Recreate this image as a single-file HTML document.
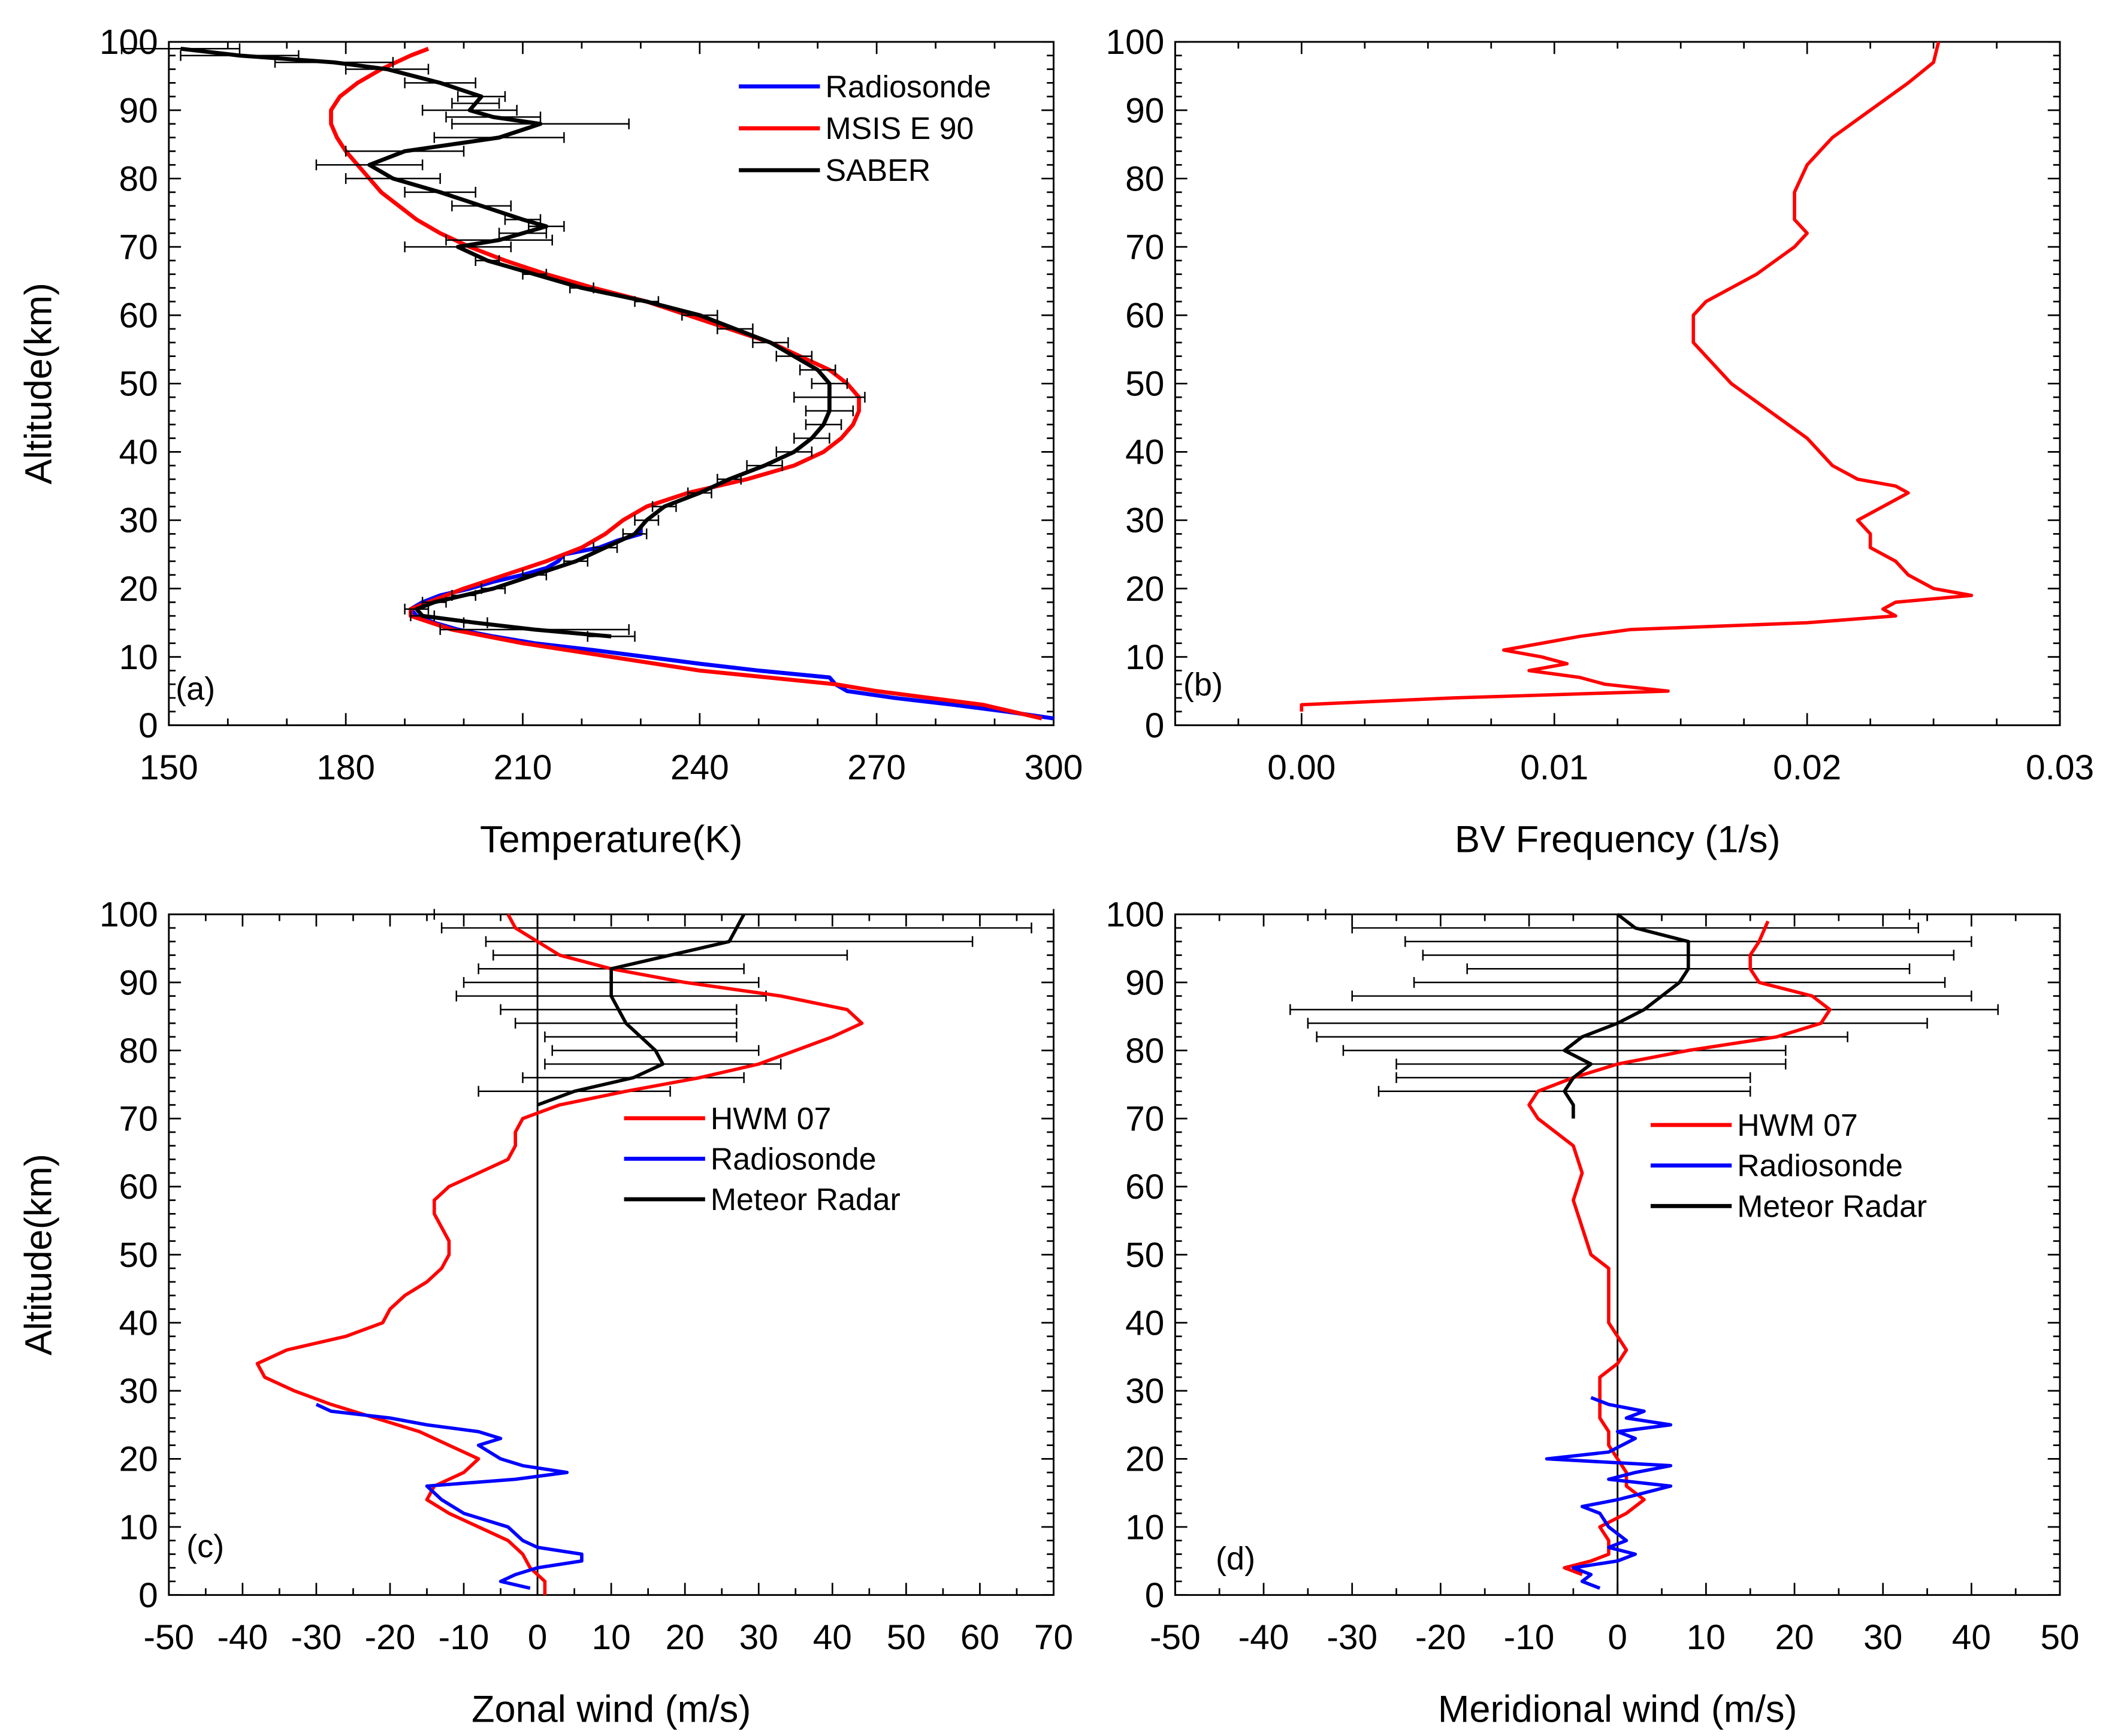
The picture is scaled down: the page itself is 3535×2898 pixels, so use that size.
<!DOCTYPE html>
<html><head><meta charset="utf-8"><style>
html,body{margin:0;padding:0;background:#fff}
svg{display:block}
text{font-family:"Liberation Sans",Arial,sans-serif;fill:#000}
</style></head><body>
<svg id="fig" width="3535" height="2898" viewBox="0 0 1568 1285.4" preserveAspectRatio="none" xmlns="http://www.w3.org/2000/svg"></svg>
<script>
// ---------- data ----------
const msisAlt=[1,3,5,6,8,10,12,14,16,17,18,20,22,24,26,28,30,32,34,36,38,40,42,44,46,48,50,52,54,56,58,60,62,64,66,68,70,72,74,76,78,80,82,84,86,88,90,92,94,96,98,99];
const msisT=[298,288,270,263,240,225,210,198,191,191,194,200,207,214,220,224,227,231,238,248,256,261,264,266,267,267,265,262,257,252,245,238,231,222,214,207,201,196,192,189,186,184,182,180,178.5,177.5,177.5,179,182,186,191,194];
const sondeAltA=[1,2,3,4,5,6,7,8,9,10,11,12,13,14,15,16,17,18,19,20,21,22,23,24,25,26,27,28,29];
const sondeT=[300,292,283,273,265,263,262,250,240,231,222,212,205,199,195,192,191,193,196,201,205,210,214,216,217,223,226,230,230];
const saberAlt=[13,14,15,16,17,18,19,20,22,24,26,28,30,32,34,36,38,40,42,44,46,48,50,52,54,56,58,60,62,64,66,68,70,71,72,73,74,76,78,80,82,84,86,88,89,90,91,92,94,96,97,98,99];
const saberT=[225,212,202,193,192,195,200,205,212,219,224,229,231,234,240,245,251,256,259,261,262,262,262,260,256,252,246,240,231,220,212,204,199,206,210,214,210,203,196,188,184,190,206,213,205,201,202,203,196,187,178,162,152];
const saberErr=[4,16,2,2,2,2,2,2,2,2,2,2,2,2,2,2,3,3,3,3,4,6,3,3,3,3,3,3,2,2,2,2,9,9,4,3,3,5,6,8,9,10,11,15,8,8,4,4,6,7,10,10,10];

const bvAlt=[2,3,4,5,6,7,8,9,10,11,12,13,14,15,16,17,18,19,20,22,24,26,28,30,32,34,35,36,38,42,46,50,54,56,60,62,64,66,70,72,74,78,82,86,90,94,97,100];
const bvN=[0,0,0.006,0.0145,0.012,0.011,0.009,0.0105,0.0095,0.008,0.0095,0.011,0.013,0.02,0.0235,0.023,0.0235,0.0265,0.025,0.024,0.0235,0.0225,0.0225,0.022,0.023,0.024,0.0235,0.022,0.021,0.02,0.0185,0.017,0.016,0.0155,0.0155,0.016,0.017,0.018,0.0195,0.02,0.0195,0.0195,0.02,0.021,0.0225,0.024,0.025,0.0252];

const hwmAltC=[0,2,4,6,8,10,12,14,16,18,20,22,24,26,28,30,32,34,36,38,40,42,44,46,48,50,52,54,56,58,60,62,64,66,68,70,72,74,76,78,80,82,84,86,88,90,92,94,96,98,100];
const hwmU=[1,1,-1,-2,-4,-8,-12,-15,-14,-10,-8,-12,-16,-22,-28,-33,-37,-38,-34,-26,-21,-20,-18,-15,-13,-12,-12,-13,-14,-14,-12,-8,-4,-3,-3,-2,3,12,22,30,35,40,44,42,33,20,10,3,0,-3,-4];
const sondeAltC=[1,2,3,4,5,6,7,8,10,12,14,16,17,18,19,20,22,23,24,25,26,27,28];
const sondeU=[-1,-5,-3,0,6,6,0,-2,-4,-10,-13,-15,-3,4,-2,-5,-8,-5,-8,-15,-20,-28,-30];
const radarAltC=[72,74,76,78,80,82,84,86,88,90,92,94,96,98,100];
const radarU=[0,5,13,17,16,14,12,11,10,10,10,18,26,27,28];
const radarUErr=[0,13,15,16,14,13,15,16,21,20,18,24,33,40,42];

const hwmAltD=[3,4,5,6,8,10,12,14,16,18,20,22,24,26,28,30,32,34,36,38,40,44,48,50,54,58,62,66,70,72,74,76,78,80,82,84,86,88,90,92,94,96,99];
const hwmV=[-4,-6,-3,-1,-1,-2,1,3,1,1,0,-1,-1,-2,-2,-2,-2,0,1,0,-1,-1,-1,-3,-4,-5,-4,-5,-9,-10,-9,-5,0,8,18,23,24,22,16,15,15,16,17];
const sondeAltD=[1,2,3,4,5,6,7,8,10,12,13,14,15,16,17,18,19,20,21,23,24,25,26,27,28,29];
const sondeV=[-2,-4,-3,-5,0,2,-1,1,-1,-2,-4,0,3,6,-1,2,6,-8,-1,2,0,6,1,3,-1,-3];
const radarAltD=[70,72,74,76,78,80,82,84,86,88,90,92,94,96,98,100];
const radarV=[-5,-5,-6,-5,-3,-6,-4,0,3,5,7,8,8,8,2,0];
const radarVErr=[0,0,21,20,22,25,30,35,40,35,30,25,30,32,32,33];

// ---------- helpers ----------
const NS="http://www.w3.org/2000/svg";
const svg=document.getElementById('fig');
function mk(tag,attrs,parent){const e=document.createElementNS(NS,tag);for(const k in attrs)e.setAttribute(k,attrs[k]);(parent||svg).appendChild(e);return e;}

function panel(id,box,xr,yr,xticks,xfmt,xminor,xtitle,ytitle,label,labelPos){
  const g=mk('g',{});
  
  
  const X=v=>box.x0+(v-xr[0])/(xr[1]-xr[0])*(box.x1-box.x0);
  const Y=v=>box.y1-(v-yr[0])/(yr[1]-yr[0])*(box.y1-box.y0);
  const fr=mk('rect',{x:box.x0,y:box.y0,width:box.x1-box.x0,height:box.y1-box.y0,fill:'none',stroke:'#000','stroke-width':1.3},g);
  
  
  // x ticks
  for(let v=xr[0];v<=xr[1]+1e-9;v+=xminor){
    const major=xticks.some(t=>Math.abs(t-v)<1e-9);const L=major?9:5;
    mk('line',{x1:X(v),x2:X(v),y1:box.y1,y2:box.y1-L,stroke:'#000','stroke-width':1.2},g);
    mk('line',{x1:X(v),x2:X(v),y1:box.y0,y2:box.y0+L,stroke:'#000','stroke-width':1.2},g);
  }
  xticks.forEach(t=>{const tx=mk('text',{x:X(t),y:box.y1+40,'font-size':26,'text-anchor':'middle'},g);tx.textContent=xfmt(t);
    
    });
  for(let v=0;v<=100;v+=2){const major=v%10===0;const L=major?9:5;
    mk('line',{x1:box.x0,x2:box.x0+L,y1:Y(v),y2:Y(v),stroke:'#000','stroke-width':1.2},g);
    mk('line',{x1:box.x1,x2:box.x1-L,y1:Y(v),y2:Y(v),stroke:'#000','stroke-width':1.2},g);
    if(major){const ty=mk('text',{x:box.x0-8,y:Y(v)+9,'font-size':26,'text-anchor':'end'},g);ty.textContent=v;
      
      }
  }
  const xt=mk('text',{x:(box.x0+box.x1)/2,y:box.y1+94,'font-size':28,'text-anchor':'middle'},g);xt.textContent=xtitle;
  
  
  if(ytitle){const yt=mk('text',{x:0,y:0,'font-size':28,'text-anchor':'middle',transform:`translate(38,${(box.y0+box.y1)/2}) rotate(-90)`},g);yt.textContent=ytitle;
    
    }
  const lb=mk('text',{x:labelPos[0],y:labelPos[1],'font-size':24},g);lb.textContent=label;
  
  
  return {g,X,Y,box};
}
function line(p,xs,ys,color,w,name){
  const d=xs.map((x,i)=>(i?'L':'M')+p.X(x).toFixed(2)+','+p.Y(ys[i]).toFixed(2)).join('');
  const e=mk('path',{d,fill:'none',stroke:color,'stroke-width':w,'stroke-linejoin':'round'},p.g);
  
  
}
function errbars(p,xs,ys,errs,name){
  xs.forEach((x,i)=>{if(!errs[i])return;const y=p.Y(ys[i]);
    const e=mk('path',{d:`M${p.X(x-errs[i])},${y}L${p.X(x+errs[i])},${y}M${p.X(x-errs[i])},${y-4}v8M${p.X(x+errs[i])},${y-4}v8`,stroke:'#000','stroke-width':1.1,fill:'none'},p.g);
    
    });
}
function legend(p,x,y,items,dy){
  items.forEach((it,i)=>{const yy=y+i*dy;
    mk('line',{x1:x,x2:x+60,y1:yy,y2:yy,stroke:it[1],'stroke-width':3},p.g);
    const t=mk('text',{x:x+64,y:yy+8,'font-size':23},p.g);t.textContent=it[0];
    
    });
}

// panel a
const pa=panel('panel-a-temperature',{x0:125,x1:780,y0:31,y1:537},[150,300],[0,100],[150,180,210,240,270,300],v=>v,10,'Temperature(K)','Altitude(km)','(a)',[130,518]);
line(pa,sondeT,sondeAltA,'#0000ff',3,'radiosonde-temperature-line');
line(pa,msisT,msisAlt,'#ff0000',3,'msis-temperature-line');
errbars(pa,saberT,saberAlt,saberErr,'saber-error-bar');
line(pa,saberT,saberAlt,'#000',3,'saber-temperature-line');
legend(pa,547,64,[['Radiosonde','#0000ff'],['MSIS E 90','#ff0000'],['SABER','#000']],31);

// panel b
const pb=panel('panel-b-bv-frequency',{x0:870,x1:1525,y0:31,y1:537},[-0.005,0.03],[0,100],[0,0.01,0.02,0.03],v=>v.toFixed(2),0.0025,'BV Frequency (1/s)',null,'(b)',[876,515]);
line(pb,bvN,bvAlt,'#ff0000',2.5,'bv-frequency-line');

// panel c
const pc=panel('panel-c-zonal-wind',{x0:125,x1:780,y0:677,y1:1181},[-50,70],[0,100],[-50,-40,-30,-20,-10,0,10,20,30,40,50,60,70],v=>v,5,'Zonal wind (m/s)','Altitude(km)','(c)',[138,1153]);
const zc=mk('line',{x1:pc.X(0),x2:pc.X(0),y1:677,y2:1181,stroke:'#000','stroke-width':1.3},pc.g);


errbars(pc,radarU,radarAltC,radarUErr,'radar-error-bar');
line(pc,hwmU,hwmAltC,'#ff0000',2.5,'hwm-zonal-line');
line(pc,sondeU,sondeAltC,'#0000ff',2.5,'radiosonde-zonal-line');
line(pc,radarU,radarAltC,'#000',2.5,'radar-zonal-line');
legend(pc,462,828,[['HWM 07','#ff0000'],['Radiosonde','#0000ff'],['Meteor Radar','#000']],30);

// panel d
const pd=panel('panel-d-meridional-wind',{x0:870,x1:1525,y0:677,y1:1181},[-50,50],[0,100],[-50,-40,-30,-20,-10,0,10,20,30,40,50],v=>v,5,'Meridional wind (m/s)',null,'(d)',[900,1162]);
const zd=mk('line',{x1:pd.X(0),x2:pd.X(0),y1:677,y2:1181,stroke:'#000','stroke-width':1.3},pd.g);


errbars(pd,radarV,radarAltD,radarVErr,'radar-error-bar');
line(pd,hwmV,hwmAltD,'#ff0000',2.5,'hwm-meridional-line');
line(pd,sondeV,sondeAltD,'#0000ff',2.5,'radiosonde-meridional-line');
line(pd,radarV,radarAltD,'#000',2.5,'radar-meridional-line');
legend(pd,1222,833,[['HWM 07','#ff0000'],['Radiosonde','#0000ff'],['Meteor Radar','#000']],30);
</script>
</body></html>
